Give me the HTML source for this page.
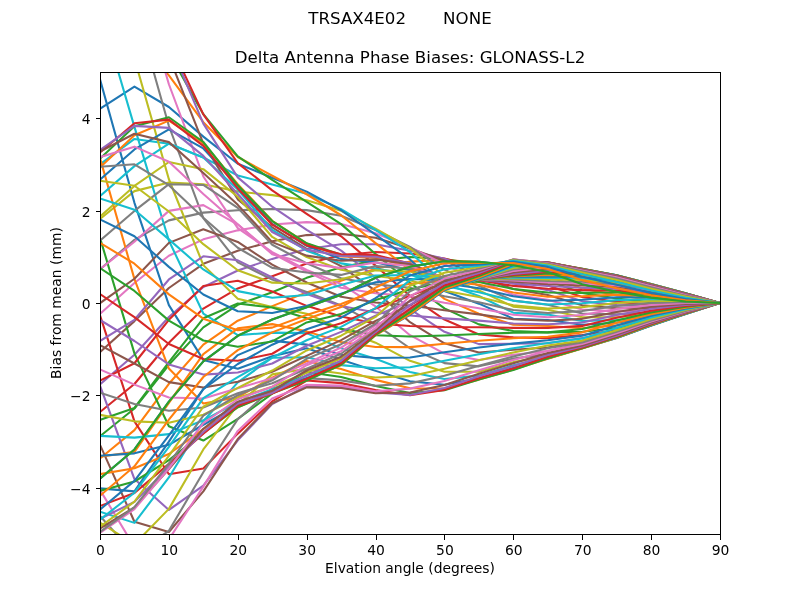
<!DOCTYPE html>
<html lang="en"><head><meta charset="utf-8"><title>Delta Antenna Phase Biases: GLONASS-L2</title>
<style>html,body{margin:0;padding:0;background:#fff}svg{display:block}text{font-family:"DejaVu Sans","Liberation Sans",sans-serif;fill:#000}.l{fill:none;stroke-width:2.0833;stroke-linejoin:round;stroke-linecap:square}.t{stroke:#000;stroke-width:1;fill:none;shape-rendering:crispEdges}</style></head><body>
<svg width="800" height="600" viewBox="0 0 800 600">
<rect x="0" y="0" width="800" height="600" fill="#fff"/>
<defs><clipPath id="c"><rect x="100" y="72" width="620" height="462"/></clipPath></defs>
<g clip-path="url(#c)">
<polyline class="l" stroke="#1f77b4" points="100.00,478.54 134.44,449.48 168.89,401.66 203.33,361.39 237.78,335.79 272.22,319.52 306.67,307.22 341.11,294.66 375.56,277.71 410.00,266.65 444.44,261.26 478.89,261.91 513.33,265.31 547.78,272.08 582.22,284.28 616.67,291.67 651.11,297.61 685.56,301.43 720.00,303.00"/>
<polyline class="l" stroke="#ff7f0e" points="100.00,458.52 134.44,430.15 168.89,383.76 203.33,344.64 237.78,320.73 272.22,306.16 306.67,292.40 341.11,280.67 375.56,268.71 410.00,261.63 444.44,259.92 478.89,262.40 513.33,268.82 547.78,276.14 582.22,288.60 616.67,295.11 651.11,299.93 685.56,302.60 720.00,303.00"/>
<polyline class="l" stroke="#2ca02c" points="100.00,436.28 134.44,408.50 168.89,364.80 203.33,327.40 237.78,304.77 272.22,292.26 306.67,277.84 341.11,267.23 375.56,260.38 410.00,257.06 444.44,259.02 478.89,264.51 513.33,273.31 547.78,280.70 582.22,292.86 616.67,298.50 651.11,302.22 685.56,303.67 720.00,303.00"/>
<polyline class="l" stroke="#d62728" points="100.00,411.98 134.44,383.98 168.89,342.79 203.33,308.53 237.78,288.42 272.22,276.23 306.67,263.51 341.11,255.18 375.56,252.04 410.00,253.47 444.44,258.51 478.89,267.75 513.33,278.31 547.78,285.39 582.22,297.04 616.67,301.87 651.11,304.37 685.56,304.67 720.00,303.00"/>
<polyline class="l" stroke="#9467bd" points="100.00,384.28 134.44,354.68 168.89,317.03 203.33,287.06 237.78,270.49 272.22,258.88 306.67,248.91 341.11,244.19 375.56,244.17 410.00,250.68 444.44,258.78 478.89,271.74 513.33,283.59 547.78,290.11 582.22,301.19 616.67,305.12 651.11,306.41 685.56,305.64 720.00,303.00"/>
<polyline class="l" stroke="#8c564b" points="100.00,352.03 134.44,321.11 168.89,288.01 203.33,263.82 237.78,250.83 272.22,241.27 306.67,235.09 341.11,233.89 375.56,237.79 410.00,248.52 444.44,260.57 478.89,276.33 513.33,289.06 547.78,294.92 582.22,305.34 616.67,308.29 651.11,308.39 685.56,306.58 720.00,303.00"/>
<polyline class="l" stroke="#e377c2" points="100.00,313.82 134.44,283.04 168.89,255.71 203.33,239.32 237.78,230.36 272.22,224.57 306.67,222.14 341.11,223.99 375.56,233.21 410.00,247.14 444.44,264.26 478.89,281.14 513.33,294.74 547.78,299.83 582.22,309.45 616.67,311.37 651.11,310.32 685.56,307.49 720.00,303.00"/>
<polyline class="l" stroke="#7f7f7f" points="100.00,269.33 134.44,239.84 168.89,220.36 203.33,212.64 237.78,210.29 272.22,208.96 306.67,210.15 341.11,215.82 375.56,230.00 410.00,246.86 444.44,269.68 478.89,285.76 513.33,300.64 547.78,304.80 582.22,313.45 616.67,314.35 651.11,312.18 685.56,308.38 720.00,303.00"/>
<polyline class="l" stroke="#bcbd22" points="100.00,218.97 134.44,191.13 168.89,182.44 203.33,184.26 237.78,191.53 272.22,195.15 306.67,200.26 341.11,210.84 375.56,228.58 410.00,248.25 444.44,276.29 478.89,290.39 513.33,306.65 547.78,309.71 582.22,317.33 616.67,317.23 651.11,313.98 685.56,309.24 720.00,303.00"/>
<polyline class="l" stroke="#17becf" points="100.00,164.36 134.44,138.93 168.89,143.76 203.33,157.45 237.78,175.50 272.22,184.42 306.67,193.83 341.11,209.12 375.56,229.81 410.00,252.24 444.44,283.52 478.89,295.98 513.33,312.67 547.78,314.60 582.22,321.07 616.67,320.03 651.11,315.73 685.56,310.07 720.00,303.00"/>
<polyline class="l" stroke="#1f77b4" points="100.00,108.73 134.44,86.63 168.89,107.02 203.33,136.64 237.78,163.73 272.22,177.72 306.67,191.64 341.11,210.27 375.56,234.54 410.00,259.41 444.44,290.96 478.89,303.66 513.33,318.69 547.78,319.97 582.22,324.71 616.67,322.75 651.11,317.44 685.56,310.87 720.00,303.00"/>
<polyline class="l" stroke="#ff7f0e" points="100.00,53.93 134.44,37.65 168.89,75.37 203.33,122.19 237.78,157.01 272.22,175.77 306.67,194.26 341.11,215.24 375.56,243.10 410.00,270.07 444.44,298.88 478.89,313.77 513.33,324.78 547.78,326.07 582.22,328.24 616.67,325.39 651.11,319.07 685.56,311.62 720.00,303.00"/>
<polyline class="l" stroke="#2ca02c" points="100.00,2.75 134.44,-4.25 168.89,52.60 203.33,114.19 237.78,156.32 272.22,179.88 306.67,201.83 341.11,224.13 375.56,253.94 410.00,282.78 444.44,308.35 478.89,324.39 513.33,331.03 547.78,332.36 582.22,331.67 616.67,327.93 651.11,320.59 685.56,312.28 720.00,303.00"/>
<polyline class="l" stroke="#d62728" points="100.00,-41.38 134.44,-35.31 168.89,41.08 203.33,114.39 237.78,163.06 272.22,190.43 306.67,213.79 341.11,236.32 375.56,265.64 410.00,296.01 444.44,319.52 478.89,334.56 513.33,337.39 547.78,338.14 582.22,334.99 616.67,330.29 651.11,321.95 685.56,312.86 720.00,303.00"/>
<polyline class="l" stroke="#9467bd" points="100.00,-74.86 134.44,-52.16 168.89,42.14 203.33,123.63 237.78,177.39 272.22,206.70 306.67,229.80 341.11,250.63 375.56,277.67 410.00,309.15 444.44,331.80 478.89,344.13 513.33,343.80 547.78,343.17 582.22,338.07 616.67,332.39 651.11,323.13 685.56,313.34 720.00,303.00"/>
<polyline class="l" stroke="#8c564b" points="100.00,-94.26 134.44,-52.10 168.89,56.42 203.33,143.63 237.78,199.32 272.22,227.42 306.67,248.84 341.11,266.10 375.56,290.92 410.00,322.20 444.44,343.31 478.89,352.55 513.33,349.78 547.78,347.43 582.22,340.83 616.67,334.22 651.11,324.12 685.56,313.71 720.00,303.00"/>
<polyline class="l" stroke="#e377c2" points="100.00,-96.71 134.44,-33.50 168.89,84.24 203.33,176.50 237.78,228.19 272.22,252.09 306.67,269.88 341.11,283.99 375.56,306.44 410.00,335.19 444.44,353.59 478.89,359.92 513.33,354.68 547.78,351.00 582.22,343.24 616.67,335.75 651.11,324.86 685.56,313.94 720.00,303.00"/>
<polyline class="l" stroke="#7f7f7f" points="100.00,-80.28 134.44,3.87 168.89,125.99 203.33,218.22 237.78,262.34 272.22,279.61 306.67,291.91 341.11,305.39 375.56,324.36 410.00,348.25 444.44,363.14 478.89,366.34 513.33,358.64 547.78,353.86 582.22,345.27 616.67,336.91 651.11,325.34 685.56,314.06 720.00,303.00"/>
<polyline class="l" stroke="#bcbd22" points="100.00,-44.38 134.44,58.51 168.89,179.24 203.33,265.13 237.78,298.84 272.22,306.89 306.67,313.82 341.11,328.94 375.56,342.66 410.00,360.80 444.44,371.67 478.89,371.67 513.33,362.15 547.78,356.05 582.22,346.83 616.67,337.65 651.11,325.58 685.56,314.08 720.00,303.00"/>
<polyline class="l" stroke="#17becf" points="100.00,9.87 134.44,126.84 168.89,240.56 203.33,313.51 237.78,335.10 272.22,332.63 306.67,333.09 341.11,348.37 375.56,358.73 410.00,372.01 444.44,379.06 478.89,375.66 513.33,365.29 547.78,357.58 582.22,347.83 616.67,338.03 651.11,325.62 685.56,313.99 720.00,303.00"/>
<polyline class="l" stroke="#1f77b4" points="100.00,79.27 134.44,202.82 168.89,305.15 203.33,359.91 237.78,368.69 272.22,356.29 306.67,348.21 341.11,359.85 375.56,370.88 410.00,381.18 444.44,384.78 478.89,378.33 513.33,367.87 547.78,358.53 582.22,348.36 616.67,338.09 651.11,325.44 685.56,313.81 720.00,303.00"/>
<polyline class="l" stroke="#ff7f0e" points="100.00,158.11 134.44,279.15 168.89,368.55 203.33,403.50 237.78,397.20 272.22,377.76 306.67,361.02 341.11,369.10 375.56,379.87 410.00,388.20 444.44,388.52 478.89,379.62 513.33,369.59 547.78,358.82 582.22,348.48 616.67,337.81 651.11,325.07 685.56,313.58 720.00,303.00"/>
<polyline class="l" stroke="#2ca02c" points="100.00,237.84 134.44,353.38 168.89,426.21 203.33,440.57 237.78,418.87 272.22,393.62 306.67,371.96 341.11,376.92 375.56,386.07 410.00,393.00 444.44,390.20 478.89,379.49 513.33,369.89 547.78,358.25 582.22,348.16 616.67,337.23 651.11,324.60 685.56,313.31 720.00,303.00"/>
<polyline class="l" stroke="#d62728" points="100.00,315.39 134.44,421.40 168.89,474.22 203.33,468.57 237.78,433.64 272.22,401.47 306.67,380.55 341.11,383.12 375.56,390.13 410.00,395.25 444.44,389.88 478.89,378.21 513.33,368.44 547.78,356.86 582.22,347.43 616.67,336.50 651.11,324.05 685.56,312.98 720.00,303.00"/>
<polyline class="l" stroke="#9467bd" points="100.00,385.63 134.44,479.02 168.89,509.96 203.33,485.60 237.78,440.36 272.22,404.15 306.67,385.93 341.11,387.04 375.56,392.55 410.00,394.95 444.44,387.98 478.89,376.30 513.33,366.06 547.78,355.06 582.22,346.50 616.67,335.65 651.11,323.38 685.56,312.58 720.00,303.00"/>
<polyline class="l" stroke="#8c564b" points="100.00,444.81 134.44,521.75 168.89,531.97 203.33,491.31 237.78,439.03 272.22,403.29 306.67,387.37 341.11,387.97 375.56,393.28 410.00,392.56 444.44,384.92 478.89,373.66 513.33,363.26 547.78,352.96 582.22,345.43 616.67,334.60 651.11,322.56 685.56,312.12 720.00,303.00"/>
<polyline class="l" stroke="#e377c2" points="100.00,489.91 134.44,546.96 168.89,539.35 203.33,486.67 237.78,430.92 272.22,398.55 306.67,384.75 341.11,385.62 375.56,391.31 410.00,388.61 444.44,380.95 478.89,370.20 513.33,360.00 547.78,350.68 582.22,344.10 616.67,333.34 651.11,321.61 685.56,311.57 720.00,303.00"/>
<polyline class="l" stroke="#7f7f7f" points="100.00,515.98 134.44,554.15 168.89,530.83 203.33,472.23 237.78,419.18 272.22,388.65 306.67,378.16 341.11,380.39 375.56,385.69 410.00,383.36 444.44,375.78 478.89,365.83 513.33,356.42 547.78,348.24 582.22,342.49 616.67,331.87 651.11,320.50 685.56,310.88 720.00,303.00"/>
<polyline class="l" stroke="#bcbd22" points="100.00,522.52 134.44,544.28 168.89,508.89 203.33,449.46 237.78,404.84 272.22,374.40 306.67,368.71 341.11,373.52 375.56,377.51 410.00,376.16 444.44,368.82 478.89,360.36 513.33,352.46 547.78,345.57 582.22,340.61 616.67,330.14 651.11,319.09 685.56,310.07 720.00,303.00"/>
<polyline class="l" stroke="#17becf" points="100.00,511.70 134.44,522.87 168.89,477.44 203.33,421.23 237.78,382.42 272.22,357.72 306.67,357.28 341.11,365.11 375.56,368.21 410.00,367.22 444.44,360.70 478.89,354.27 513.33,348.21 547.78,342.91 582.22,338.43 616.67,327.95 651.11,317.44 685.56,309.27 720.00,303.00"/>
<polyline class="l" stroke="#1f77b4" points="100.00,488.37 134.44,491.36 168.89,441.56 203.33,389.03 237.78,355.09 272.22,340.60 306.67,344.62 341.11,354.84 375.56,358.08 410.00,357.46 444.44,352.17 478.89,347.53 513.33,343.64 547.78,340.20 582.22,335.65 616.67,325.40 651.11,315.79 685.56,308.50 720.00,303.00"/>
<polyline class="l" stroke="#ff7f0e" points="100.00,456.69 134.44,451.86 168.89,402.97 203.33,354.08 237.78,328.31 272.22,324.14 306.67,331.38 341.11,342.11 375.56,346.96 410.00,347.16 444.44,343.79 478.89,340.69 513.33,338.31 547.78,336.74 582.22,332.35 616.67,322.85 651.11,314.24 685.56,307.68 720.00,303.00"/>
<polyline class="l" stroke="#2ca02c" points="100.00,419.90 134.44,407.95 168.89,362.09 203.33,318.33 237.78,303.55 272.22,307.55 306.67,318.22 341.11,328.73 375.56,335.25 410.00,336.52 444.44,335.51 478.89,334.00 513.33,332.74 547.78,332.40 582.22,329.02 616.67,320.43 651.11,312.56 685.56,306.77 720.00,303.00"/>
<polyline class="l" stroke="#d62728" points="100.00,380.61 134.44,363.23 168.89,319.82 203.33,285.91 237.78,280.73 272.22,291.51 306.67,305.86 341.11,316.49 375.56,323.54 410.00,325.92 444.44,326.99 478.89,327.22 513.33,327.89 547.78,328.07 582.22,325.91 616.67,317.83 651.11,310.70 685.56,305.84 720.00,303.00"/>
<polyline class="l" stroke="#9467bd" points="100.00,340.99 134.44,319.77 168.89,279.48 203.33,256.33 237.78,260.31 272.22,277.46 306.67,294.07 341.11,306.02 375.56,312.46 410.00,315.46 444.44,318.41 478.89,320.66 513.33,323.55 547.78,324.24 582.22,322.58 616.67,314.95 651.11,308.80 685.56,304.88 720.00,303.00"/>
<polyline class="l" stroke="#8c564b" points="100.00,303.11 134.44,278.74 168.89,242.88 203.33,229.18 237.78,241.92 272.22,264.69 306.67,282.45 341.11,296.81 375.56,302.57 410.00,305.43 444.44,310.25 478.89,314.36 513.33,319.20 547.78,320.81 582.22,318.85 616.67,312.00 651.11,306.83 685.56,303.91 720.00,303.00"/>
<polyline class="l" stroke="#e377c2" points="100.00,269.22 134.44,241.77 168.89,210.88 203.33,205.12 237.78,224.57 272.22,253.29 306.67,271.55 341.11,287.69 375.56,293.26 410.00,296.15 444.44,302.77 478.89,308.19 513.33,314.70 547.78,317.28 582.22,315.05 616.67,308.94 651.11,304.86 685.56,302.99 720.00,303.00"/>
<polyline class="l" stroke="#7f7f7f" points="100.00,240.54 134.44,210.92 168.89,184.19 203.33,184.96 237.78,207.89 272.22,244.71 306.67,263.32 341.11,278.30 375.56,284.35 410.00,287.76 444.44,296.25 478.89,302.31 513.33,310.07 547.78,313.05 582.22,311.09 616.67,305.89 651.11,302.99 685.56,301.99 720.00,303.00"/>
<polyline class="l" stroke="#bcbd22" points="100.00,216.60 134.44,185.95 168.89,161.99 203.33,169.15 237.78,196.73 272.22,236.97 306.67,257.07 341.11,269.77 375.56,275.96 410.00,280.33 444.44,290.68 478.89,296.91 513.33,305.29 547.78,308.55 582.22,307.12 616.67,302.98 651.11,301.02 685.56,300.98 720.00,303.00"/>
<polyline class="l" stroke="#17becf" points="100.00,196.16 134.44,166.11 168.89,143.53 203.33,157.59 237.78,189.53 272.22,229.81 306.67,250.69 341.11,263.38 375.56,268.45 410.00,274.51 444.44,286.34 478.89,292.33 513.33,300.74 547.78,304.53 582.22,303.33 616.67,300.11 651.11,299.06 685.56,300.06 720.00,303.00"/>
<polyline class="l" stroke="#1f77b4" points="100.00,179.53 134.44,149.46 168.89,129.42 203.33,148.46 237.78,185.47 272.22,224.01 306.67,245.87 341.11,259.14 375.56,262.25 410.00,270.16 444.44,283.23 478.89,288.31 513.33,296.33 547.78,300.77 582.22,299.79 616.67,297.23 651.11,297.25 685.56,299.27 720.00,303.00"/>
<polyline class="l" stroke="#ff7f0e" points="100.00,167.33 134.44,135.32 168.89,120.64 203.33,143.06 237.78,184.16 272.22,220.78 306.67,243.36 341.11,256.49 375.56,257.80 410.00,266.81 444.44,281.20 478.89,284.67 513.33,292.41 547.78,296.69 582.22,296.21 616.67,294.59 651.11,295.71 685.56,298.60 720.00,303.00"/>
<polyline class="l" stroke="#2ca02c" points="100.00,158.64 134.44,126.15 168.89,117.26 203.33,142.00 237.78,185.30 272.22,221.02 306.67,243.26 341.11,254.83 375.56,255.39 410.00,264.65 444.44,279.88 478.89,281.92 513.33,288.96 547.78,292.48 582.22,292.91 616.67,292.33 651.11,294.40 685.56,297.99 720.00,303.00"/>
<polyline class="l" stroke="#d62728" points="100.00,152.50 134.44,123.17 168.89,119.59 203.33,145.90 237.78,188.42 272.22,224.68 306.67,245.38 341.11,254.21 375.56,255.11 410.00,263.56 444.44,279.02 478.89,280.32 513.33,285.88 547.78,288.77 582.22,290.09 616.67,290.42 651.11,293.22 685.56,297.43 720.00,303.00"/>
<polyline class="l" stroke="#9467bd" points="100.00,149.94 134.44,125.89 168.89,127.89 203.33,155.87 237.78,193.97 272.22,232.01 306.67,249.61 341.11,255.92 375.56,256.68 410.00,263.39 444.44,278.48 478.89,279.61 513.33,283.37 547.78,285.97 582.22,287.69 616.67,288.69 651.11,292.12 685.56,296.90 720.00,303.00"/>
<polyline class="l" stroke="#8c564b" points="100.00,151.53 134.44,133.79 168.89,142.12 203.33,172.99 237.78,204.84 272.22,242.13 306.67,255.62 341.11,260.79 375.56,259.39 410.00,264.21 444.44,278.17 478.89,279.41 513.33,281.63 547.78,284.03 582.22,285.55 616.67,287.08 651.11,291.09 685.56,296.40 720.00,303.00"/>
<polyline class="l" stroke="#e377c2" points="100.00,157.07 134.44,146.66 168.89,161.69 203.33,194.09 237.78,224.18 272.22,254.28 306.67,263.20 341.11,268.15 375.56,262.57 410.00,265.97 444.44,278.06 478.89,279.42 513.33,280.38 547.78,282.52 582.22,283.56 616.67,285.57 651.11,290.12 685.56,295.94 720.00,303.00"/>
<polyline class="l" stroke="#7f7f7f" points="100.00,166.77 134.44,164.31 168.89,185.17 203.33,217.80 237.78,247.77 272.22,267.89 306.67,272.56 341.11,274.90 375.56,266.13 410.00,268.46 444.44,278.18 478.89,279.47 513.33,279.34 547.78,281.04 582.22,281.68 616.67,284.14 651.11,289.21 685.56,295.50 720.00,303.00"/>
<polyline class="l" stroke="#bcbd22" points="100.00,180.67 134.44,185.77 168.89,211.48 203.33,244.19 237.78,270.21 272.22,282.66 306.67,283.55 341.11,279.31 375.56,270.35 410.00,271.57 444.44,278.53 478.89,279.47 513.33,278.33 547.78,279.53 582.22,279.91 616.67,282.82 651.11,288.36 685.56,295.09 720.00,303.00"/>
<polyline class="l" stroke="#17becf" points="100.00,198.46 134.44,209.70 168.89,239.36 203.33,269.44 237.78,291.13 272.22,297.77 306.67,294.98 341.11,284.93 375.56,275.60 410.00,275.08 444.44,279.11 478.89,279.45 513.33,277.34 547.78,278.07 582.22,278.26 616.67,281.57 651.11,287.56 685.56,294.70 720.00,303.00"/>
<polyline class="l" stroke="#1f77b4" points="100.00,219.43 134.44,236.23 168.89,266.88 203.33,294.55 237.78,311.23 272.22,312.93 306.67,305.92 341.11,293.68 375.56,282.20 410.00,278.98 444.44,279.86 478.89,279.43 513.33,276.64 547.78,276.60 582.22,276.72 616.67,280.40 651.11,286.80 685.56,294.34 720.00,303.00"/>
<polyline class="l" stroke="#ff7f0e" points="100.00,242.89 134.44,263.67 168.89,294.39 203.33,318.67 237.78,330.15 272.22,327.62 306.67,314.93 341.11,303.92 375.56,290.70 410.00,283.70 444.44,280.73 478.89,279.42 513.33,276.16 547.78,275.05 582.22,275.26 616.67,279.29 651.11,286.09 685.56,294.02 720.00,303.00"/>
<polyline class="l" stroke="#2ca02c" points="100.00,268.06 134.44,290.93 168.89,320.64 203.33,340.49 237.78,346.72 272.22,341.46 306.67,322.40 341.11,313.93 375.56,299.92 410.00,289.48 444.44,281.79 478.89,279.44 513.33,275.65 547.78,273.51 582.22,273.89 616.67,278.26 651.11,285.47 685.56,293.75 720.00,303.00"/>
<polyline class="l" stroke="#d62728" points="100.00,294.09 134.44,317.15 168.89,343.99 203.33,359.06 237.78,360.76 272.22,353.74 306.67,333.45 341.11,323.20 375.56,308.56 410.00,295.87 444.44,283.08 478.89,279.46 513.33,274.88 547.78,272.06 582.22,272.60 616.67,277.34 651.11,284.95 685.56,293.55 720.00,303.00"/>
<polyline class="l" stroke="#9467bd" points="100.00,319.99 134.44,341.01 168.89,364.43 203.33,374.60 237.78,372.58 272.22,363.47 306.67,345.79 341.11,331.85 375.56,315.61 410.00,301.49 444.44,284.51 478.89,279.47 513.33,273.85 547.78,270.60 582.22,271.45 616.67,276.58 651.11,284.55 685.56,293.42 720.00,303.00"/>
<polyline class="l" stroke="#8c564b" points="100.00,345.17 134.44,363.53 168.89,382.13 203.33,387.56 237.78,381.81 272.22,371.78 306.67,355.89 341.11,340.08 375.56,320.88 410.00,305.34 444.44,285.94 478.89,279.43 513.33,272.55 547.78,269.04 582.22,270.49 616.67,276.00 651.11,284.29 685.56,293.34 720.00,303.00"/>
<polyline class="l" stroke="#e377c2" points="100.00,369.45 134.44,384.64 168.89,397.44 203.33,398.44 237.78,388.14 272.22,378.35 306.67,363.33 341.11,347.57 375.56,325.35 410.00,307.93 444.44,287.23 478.89,279.34 513.33,271.08 547.78,267.45 582.22,269.75 616.67,275.62 651.11,284.14 685.56,293.30 720.00,303.00"/>
<polyline class="l" stroke="#7f7f7f" points="100.00,392.68 134.44,403.90 168.89,410.71 203.33,407.53 237.78,393.19 272.22,383.26 306.67,368.73 341.11,353.75 375.56,328.60 410.00,310.22 444.44,288.33 478.89,279.19 513.33,269.50 547.78,265.96 582.22,269.26 616.67,275.40 651.11,284.07 685.56,293.30 720.00,303.00"/>
<polyline class="l" stroke="#bcbd22" points="100.00,414.86 134.44,421.34 168.89,422.76 203.33,414.70 237.78,397.86 272.22,386.78 306.67,372.67 341.11,358.52 375.56,330.97 410.00,312.44 444.44,289.26 478.89,278.97 513.33,267.94 547.78,264.64 582.22,268.97 616.67,275.30 651.11,284.06 685.56,293.32 720.00,303.00"/>
<polyline class="l" stroke="#17becf" points="100.00,435.91 134.44,437.65 168.89,434.13 203.33,420.32 237.78,402.21 272.22,389.24 306.67,375.69 341.11,361.98 375.56,332.98 410.00,314.28 444.44,289.95 478.89,278.66 513.33,266.48 547.78,263.57 582.22,268.84 616.67,275.28 651.11,284.10 685.56,293.35 720.00,303.00"/>
<polyline class="l" stroke="#1f77b4" points="100.00,455.67 134.44,453.36 168.89,444.78 203.33,424.74 237.78,405.56 272.22,390.99 306.67,378.20 341.11,364.17 375.56,334.54 410.00,314.96 444.44,290.08 478.89,278.18 513.33,265.08 547.78,262.84 582.22,268.81 616.67,275.33 651.11,284.16 685.56,293.41 720.00,303.00"/>
<polyline class="l" stroke="#ff7f0e" points="100.00,474.08 134.44,468.23 168.89,454.01 203.33,429.22 237.78,407.30 272.22,392.27 306.67,380.15 341.11,365.11 375.56,335.29 410.00,314.22 444.44,289.29 478.89,277.41 513.33,263.69 547.78,262.44 582.22,268.87 616.67,275.44 651.11,284.27 685.56,293.49 720.00,303.00"/>
<polyline class="l" stroke="#2ca02c" points="100.00,490.86 134.44,481.51 168.89,460.17 203.33,433.07 237.78,407.22 272.22,393.18 306.67,380.60 341.11,364.79 375.56,334.96 410.00,312.16 444.44,287.55 478.89,276.13 513.33,262.35 547.78,262.32 582.22,268.99 616.67,275.59 651.11,284.42 685.56,293.60 720.00,303.00"/>
<polyline class="l" stroke="#d62728" points="100.00,505.99 134.44,493.04 168.89,463.85 203.33,433.60 237.78,405.72 272.22,393.56 306.67,378.80 341.11,363.27 375.56,333.62 410.00,308.92 444.44,285.40 478.89,274.53 513.33,261.14 547.78,262.38 582.22,269.17 616.67,275.81 651.11,284.65 685.56,293.77 720.00,303.00"/>
<polyline class="l" stroke="#9467bd" points="100.00,518.82 134.44,501.86 168.89,467.07 203.33,431.94 237.78,403.72 272.22,392.93 306.67,375.18 341.11,360.66 375.56,332.06 410.00,304.86 444.44,283.13 478.89,273.00 513.33,260.18 547.78,262.57 582.22,269.43 616.67,276.14 651.11,284.98 685.56,294.02 720.00,303.00"/>
<polyline class="l" stroke="#8c564b" points="100.00,528.45 134.44,507.34 168.89,469.15 203.33,428.77 237.78,401.67 272.22,390.74 306.67,370.51 341.11,356.72 375.56,330.54 410.00,300.52 444.44,280.89 478.89,271.55 513.33,259.58 547.78,262.86 582.22,269.82 616.67,276.63 651.11,285.48 685.56,294.39 720.00,303.00"/>
<polyline class="l" stroke="#e377c2" points="100.00,532.84 134.44,509.15 168.89,468.34 203.33,423.22 237.78,399.26 272.22,386.68 306.67,365.17 341.11,351.25 375.56,328.15 410.00,296.14 444.44,278.61 478.89,270.05 513.33,259.40 547.78,263.28 582.22,270.40 616.67,277.35 651.11,286.19 685.56,294.91 720.00,303.00"/>
<polyline class="l" stroke="#7f7f7f" points="100.00,531.88 134.44,507.21 168.89,463.54 203.33,415.57 237.78,395.19 272.22,380.28 306.67,358.89 341.11,344.20 375.56,323.74 410.00,291.27 444.44,276.01 478.89,268.46 513.33,259.62 547.78,263.85 582.22,271.25 616.67,278.40 651.11,287.21 685.56,295.64 720.00,303.00"/>
<polyline class="l" stroke="#bcbd22" points="100.00,526.83 134.44,501.64 168.89,455.95 203.33,406.75 237.78,387.91 272.22,370.53 306.67,350.43 341.11,335.69 375.56,316.95 410.00,285.65 444.44,272.76 478.89,267.01 513.33,260.17 547.78,264.57 582.22,272.49 616.67,279.90 651.11,288.64 685.56,296.63 720.00,303.00"/>
<polyline class="l" stroke="#17becf" points="100.00,519.66 134.44,492.72 168.89,446.84 203.33,398.15 237.78,377.04 272.22,357.64 306.67,340.23 341.11,326.90 375.56,308.12 410.00,280.18 444.44,269.18 478.89,265.71 513.33,260.90 547.78,265.53 582.22,274.26 616.67,281.98 651.11,290.56 685.56,297.81 720.00,303.00"/>
<polyline class="l" stroke="#1f77b4" points="100.00,509.55 134.44,480.83 168.89,435.26 203.33,389.08 237.78,363.97 272.22,344.71 306.67,329.21 341.11,317.64 375.56,298.04 410.00,275.50 444.44,265.98 478.89,264.41 513.33,261.77 547.78,266.89 582.22,276.74 616.67,284.79 651.11,292.87 685.56,299.03 720.00,303.00"/>
<polyline class="l" stroke="#ff7f0e" points="100.00,495.75 134.44,466.33 168.89,419.60 203.33,376.98 237.78,350.12 272.22,332.39 306.67,318.95 341.11,307.10 375.56,287.63 410.00,271.27 444.44,263.32 478.89,262.95 513.33,263.07 547.78,268.96 582.22,280.13 616.67,288.17 651.11,295.26 685.56,300.24 720.00,303.00"/>
<polyline class="l" stroke="#2ca02c" points="100.00,478.54 134.44,449.48 168.89,401.66 203.33,361.39 237.78,335.79 272.22,319.52 306.67,307.22 341.11,294.66 375.56,277.71 410.00,266.65 444.44,261.26 478.89,261.91 513.33,265.31 547.78,272.08 582.22,284.28 616.67,291.67 651.11,297.61 685.56,301.43 720.00,303.00"/>
</g>
<g id="tx" style="opacity:0.999">
<line class="t" x1="100.5" y1="534" x2="100.5" y2="539.5"/>
<text x="100.50" y="555.18" font-size="13.889" text-anchor="middle">0</text>
<line class="t" x1="169.5" y1="534" x2="169.5" y2="539.5"/>
<text x="169.39" y="555.18" font-size="13.889" text-anchor="middle">10</text>
<line class="t" x1="238.5" y1="534" x2="238.5" y2="539.5"/>
<text x="238.28" y="555.18" font-size="13.889" text-anchor="middle">20</text>
<line class="t" x1="307.5" y1="534" x2="307.5" y2="539.5"/>
<text x="307.17" y="555.18" font-size="13.889" text-anchor="middle">30</text>
<line class="t" x1="376.5" y1="534" x2="376.5" y2="539.5"/>
<text x="376.06" y="555.18" font-size="13.889" text-anchor="middle">40</text>
<line class="t" x1="444.5" y1="534" x2="444.5" y2="539.5"/>
<text x="444.94" y="555.18" font-size="13.889" text-anchor="middle">50</text>
<line class="t" x1="513.5" y1="534" x2="513.5" y2="539.5"/>
<text x="513.83" y="555.18" font-size="13.889" text-anchor="middle">60</text>
<line class="t" x1="582.5" y1="534" x2="582.5" y2="539.5"/>
<text x="582.72" y="555.18" font-size="13.889" text-anchor="middle">70</text>
<line class="t" x1="651.5" y1="534" x2="651.5" y2="539.5"/>
<text x="651.61" y="555.18" font-size="13.889" text-anchor="middle">80</text>
<line class="t" x1="720.5" y1="534" x2="720.5" y2="539.5"/>
<text x="720.50" y="555.18" font-size="13.889" text-anchor="middle">90</text>
<line class="t" x1="101" y1="488.5" x2="95.5" y2="488.5"/>
<text x="90.58" y="493.88" font-size="13.889" text-anchor="end">−4</text>
<line class="t" x1="101" y1="395.5" x2="95.5" y2="395.5"/>
<text x="90.58" y="401.48" font-size="13.889" text-anchor="end">−2</text>
<line class="t" x1="101" y1="303.5" x2="95.5" y2="303.5"/>
<text x="90.58" y="309.08" font-size="13.889" text-anchor="end">0</text>
<line class="t" x1="101" y1="211.5" x2="95.5" y2="211.5"/>
<text x="90.58" y="216.68" font-size="13.889" text-anchor="end">2</text>
<line class="t" x1="101" y1="118.5" x2="95.5" y2="118.5"/>
<text x="90.58" y="124.28" font-size="13.889" text-anchor="end">4</text>
<rect class="t" x="100.5" y="72.5" width="620" height="462"/>
<text x="410.00" y="573.27" font-size="13.889" text-anchor="middle">Elvation angle (degrees)</text>
<text transform="translate(61.36 303.00) rotate(-90)" font-size="13.889" text-anchor="middle">Bias from mean (mm)</text>
<text x="410.00" y="63.27" font-size="16.667" text-anchor="middle">Delta Antenna Phase Biases: GLONASS-L2</text>
<text x="400.00" y="23.66" font-size="16.667" text-anchor="middle" style="white-space:pre">TRSAX4E02       NONE</text>
</g>
</svg></body></html>
